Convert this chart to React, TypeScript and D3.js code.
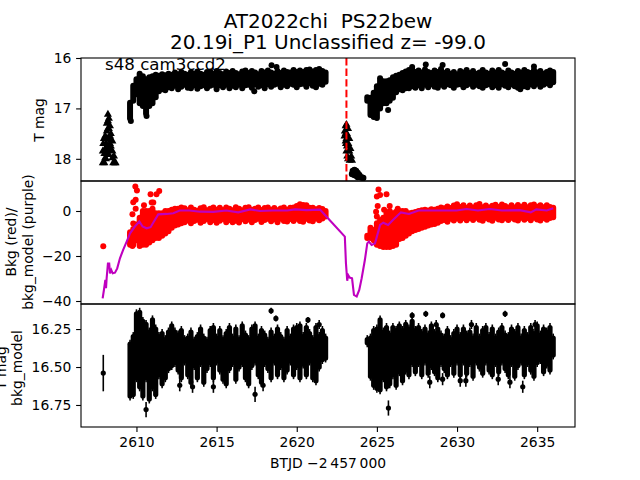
import React, { useEffect, useRef } from "react";
import * as d3 from "d3";

const leftT = [2609.6,2609.8,2610.0,2610.2,2610.4,2610.6,2610.8,2611.0,2611.2,2611.4,2611.6,2611.8,2612.0,
2612.2,2612.4,2612.6,2612.8,2613.0,2613.2,2613.4,2613.6,2613.8,2614.0,
2614.2,2614.4,2614.6,2614.8,2615.0,2615.2,2615.4,2615.6,2615.8,2616.0,
2616.2,2616.4,2616.6,2616.8,2617.0,2617.2,2617.4,2617.6,2617.8,2618.0,
2618.2,2618.4,2618.6,2618.8,2619.0,2619.2,2619.4,2619.6,2619.8,2620.0,
2620.2,2620.4,2620.6,2620.8,2621.0,2621.2,2621.4,2621.6,2621.8];
const rightT = [2624.4,2624.6,2624.8,2625.0,2625.2,2625.4,2625.6,2625.8,2626.0,2626.2,2626.4,2626.6,2626.8,2627.0,
2627.2,2627.4,2627.6,2627.8,2628.0,2628.2,2628.4,2628.6,2628.8,2629.0,2629.2,2629.4,2629.6,2629.8,2630.0,
2630.2,2630.4,2630.6,2630.8,2631.0,2631.2,2631.4,2631.6,2631.8,2632.0,2632.2,2632.4,2632.6,2632.8,2633.0,
2633.2,2633.4,2633.6,2633.8,2634.0,2634.2,2634.4,2634.6,2634.8,2635.0,2635.2,2635.4,2635.6,2635.8,2636.0];

// T mag panel: marker-centre extent of the point cloud per time column
const magHiL = [16.89,16.55,16.42,16.31,16.36,16.42,16.38,16.36,16.33,16.35,16.32,16.34,16.31,
16.33,16.29,16.32,16.28,16.31,16.33,16.28,16.31,16.27,16.31,
16.33,16.28,16.27,16.31,16.26,16.30,16.32,16.27,16.30,16.26,
16.30,16.32,16.27,16.25,16.30,16.26,16.29,16.32,16.26,16.29,
16.25,16.29,16.31,16.26,16.30,16.25,16.28,16.29,16.24,16.28,
16.25,16.28,16.24,16.23,16.27,16.24,16.22,16.26,16.29];
const magLoL = [17.20,16.85,16.72,16.90,16.95,17.10,16.95,16.90,16.78,16.66,16.62,16.64,16.58,
16.60,16.55,16.62,16.57,16.53,16.59,16.60,16.54,16.61,16.56,
16.54,16.60,16.55,16.53,16.62,16.54,16.58,16.53,16.60,16.55,
16.58,16.53,16.60,16.54,16.53,16.59,16.52,16.57,16.54,16.60,
16.52,16.57,16.53,16.51,16.58,16.53,16.56,16.51,16.53,16.58,
16.52,16.51,16.57,16.50,16.55,16.58,16.51,16.53,16.47];
const magHiR = [16.78,16.79,16.69,16.56,16.40,16.46,16.46,16.44,16.38,16.35,16.33,16.30,16.27,16.24,
16.22,16.28,16.25,16.29,16.23,16.28,16.30,16.25,16.28,16.22,16.30,16.26,16.31,16.28,16.32,
16.26,16.29,16.24,16.30,16.26,16.31,16.29,16.24,16.29,16.31,16.25,16.29,16.24,16.29,16.31,
16.25,16.29,16.31,16.26,16.29,16.24,16.28,16.30,16.24,16.29,16.26,16.31,16.28,16.25,16.28];
const magLoR = [16.85,17.13,17.17,17.19,17.00,16.90,16.90,16.85,16.79,16.68,16.62,16.64,16.60,16.60,
16.56,16.59,16.54,16.60,16.53,16.58,16.52,16.57,16.59,16.53,16.57,16.52,16.54,16.59,16.53,
16.52,16.58,16.54,16.51,16.57,16.53,16.56,16.59,16.54,16.52,16.58,16.54,16.59,16.52,16.55,
16.58,16.52,16.56,16.59,16.53,16.56,16.58,16.52,16.56,16.51,16.57,16.53,16.50,16.54,16.48];
const magOutT = [2617.35,2618.43,2618.74,2627.2,2628.05,2629.1,2633.0,2634.8,2633.95,2625.7,2610.63,2609.65];
const magOutM = [16.66,16.145,16.18,16.18,16.13,16.14,16.12,16.17,16.62,17.03,17.15,17.25];

// triangles (upper limits)
const triT = [2607.9,2607.9,2607.93,2607.97,2608.0,2608.0,2608.05,2608.05,2608.05,2608.1,2608.1,2608.1,2608.15,2608.15,2608.15,2608.15,2608.22,2608.22,2608.22,2608.22,2608.22,2608.28,2608.28,2608.28,2608.28,2608.28,2608.35,2608.35,2608.35,2608.35,2608.4,2608.4,2608.4,2608.5,2608.5,2608.5,2608.55,2608.6,2608.65,2608.7,
2622.98,2623.0,2623.05,2623.05,2623.05,2623.07,2623.1,2623.1,2623.1,2623.13,2623.13,2623.15,2623.2,2623.2,2623.2,2623.22,2623.28,2623.28,2623.3,2623.35,2623.4,2623.45];
const triM = [18.08,17.85,17.7,17.6,18.08,17.9,17.8,17.55,17.98,18.0,17.7,17.85,17.45,17.3,17.9,17.6,17.12,17.25,17.4,17.6,17.75,17.2,17.4,17.6,17.8,17.92,17.35,17.55,17.7,17.82,17.5,17.75,17.62,17.65,17.85,17.98,18.08,17.95,18.08,18.08,
17.55,17.45,17.35,17.65,17.5,17.7,17.32,17.85,17.6,17.5,17.75,17.95,17.4,18.0,17.6,17.7,17.6,17.85,18.03,17.8,17.95,18.03];
const blobT = [2623.45,2623.5,2623.6,2623.7,2623.6,2623.7,2623.8,2623.9,2623.8,2623.95,2624.05,2624.15];
const blobM = [18.30,18.24,18.22,18.24,18.32,18.33,18.28,18.32,18.36,18.36,18.37,18.38];
const eventT = [2623.1];

// Bkg panel
const bkgHiL = [-9.5,-8,-6,-3,0,0,0,1,-1,-1,-1,0,0,
0.5,1,1,1.5,1.2,0.3,1.6,0.6,0.1,1.2,
1.7,0.3,1.0,1.6,0.5,1.4,0.4,1.6,1.0,0.3,
1.7,1.0,0.3,1.4,1.7,0.5,1.0,1.6,0.4,1.3,
1.6,0.5,1.3,0.3,1.1,1.6,0.6,1.4,1.6,2.2,
3.0,2.7,2.5,1.4,1.4,0.8,1.3,0.9,0.0];
const bkgLoL = [-15,-15,-13,-15.5,-15,-15,-14,-13,-12,-12,-11,-10,-9,
-7.5,-6.5,-6,-5.5,-5,-4.2,-5.4,-4.5,-3.9,-5.2,
-4.5,-3.6,-5,-4.0,-5.2,-4.3,-3.6,-5,-4.0,-5,
-4.3,-5.1,-3.6,-4.6,-3.8,-5,-4.0,-3.5,-4.9,-4.0,
-3.5,-4.6,-3.7,-5,-3.5,-4.4,-4.7,-3.6,-4.4,-3.5,
-4.4,-4.8,-3.4,-4.2,-4.6,-3.3,-4.1,-3.3,-2.5];
const bkgHiR = [-11,-7.5,-8.5,-5.5,-4,-3,-1,0,-1,-0.3,0,0,0,-1,
-0.8,-0.4,0,0.3,0.5,0.2,0.8,0.5,1.0,1.6,1.2,2.0,1.3,2.4,3.0,
1.8,2.6,1.4,2.4,1.6,2.6,3.1,1.7,2.4,1.5,2.3,2.8,1.8,2.9,2.2,
1.6,2.5,1.6,2.7,1.8,2.8,1.7,2.5,2.9,1.9,2.6,1.7,2.5,1.8,1.4];
const bkgLoR = [-12,-12,-13,-15,-15.5,-16,-16,-16,-15.5,-15,-12.5,-12,-11,-10,
-9,-8.5,-8,-7.5,-7,-6.5,-6,-5.8,-5.2,-4.5,-4,-4.8,-3.4,-4.2,-3.3,
-4.2,-3.1,-4.1,-3.1,-4.0,-3.0,-3.9,-4.3,-3.1,-3.8,-4.3,-3.0,-3.8,-4.1,-3.1,
-4,-3.0,-3.8,-4.2,-3.0,-3.9,-3.1,-4.1,-3.0,-3.8,-4.2,-3.1,-3.9,-3.1,-2.8];
const bkgOutT = [2607.93,2609.93,2610.03,2609.8,2609.95,2609.95,2609.75,2609.8,2610.88,2611.25,2611.42,2610.95,2611.05,2610.47,2609.6,2609.75,
2625.1,2625.2,2625.0,2625.6,2625.05,2625.8,2624.95,2625.0,2626.3,2625.45,2624.55];
const bkgOutV = [-15.7,10.9,9.1,3.9,5,1,-1.4,-5.6,7.4,7.4,8.9,3.8,3.8,2.6,-10.6,-15.6,
9.6,7.1,6.4,7.4,2.2,2.2,-0.3,-2.5,1,0.5,-11];

// purple background model
const modelT = [2607.89,2607.97,2608.06,2608.1,2608.14,2608.22,2608.3,2608.35,2608.43,2608.52,2608.66,2608.8,2608.97,2609.17,2609.39,2609.6,2609.9,2610.18,2610.38,2610.63,2610.88,2611.09,2611.36,2611.88,2612.3,2612.7,2613.3,2613.96,2614.8,2615.6,2616.35,2617.1,2617.7,2618.5,2619.4,2619.9,2620.6,2621.45,2621.76,2623.0,2623.07,2623.15,2623.2,2623.3,2623.45,2623.57,2623.74,2623.9,2624.05,2624.25,2624.4,2624.5,2624.67,2624.88,2625.0,2625.2,2625.4,2625.7,2626.0,2626.5,2627.0,2627.6,2628.3,2629.1,2629.97,2630.6,2631.3,2632.05,2632.8,2633.9,2634.6,2634.95,2635.6,2636.0];
const modelV = [-38.8,-35.1,-30.6,-34.3,-29.9,-23.3,-23.3,-27.7,-26.2,-27.7,-27.4,-25.5,-21,-17.3,-13.6,-9.9,-6.9,-4.7,-6.9,-7.7,-7.2,-4.7,-1.5,-1.3,-1,0.2,0.2,-0.3,-0.4,0.2,-0.6,0.7,0,0.2,0.2,0.7,0.4,0.6,-1.8,-11.4,-23.3,-31,-28.4,-29.6,-29.9,-37.3,-38,-35.1,-29.9,-21.8,-14.4,-13.6,-15.1,-14.4,-11.4,-6.2,-5.2,-6.2,-4,-0.6,-1.3,0.2,0.2,0.2,0.2,0.9,0.2,0.9,0.2,0.4,-0.6,0.7,0.2,1.2];

// bkg-model mag panel: tips of the error bars per time column
const corrHiL = [16.32,16.27,16.12,16.11,16.17,16.19,16.24,16.16,16.22,16.27,16.25,16.29,16.24,
16.20,16.24,16.26,16.23,16.29,16.28,16.24,16.30,16.27,16.22,
16.28,16.30,16.23,16.21,16.28,16.23,16.29,16.25,16.21,16.28,
16.22,16.29,16.20,16.26,16.29,16.22,16.20,16.28,16.23,16.26,
16.30,16.24,16.28,16.22,16.27,16.30,16.23,16.28,16.22,16.21,
16.20,16.27,16.21,16.25,16.29,16.21,16.27,16.23,16.28];
const corrLoL = [16.72,16.71,16.60,16.66,16.72,16.60,16.74,16.66,16.71,16.58,16.64,16.60,16.54,
16.52,16.50,16.55,16.60,16.49,16.58,16.63,16.52,16.60,16.50,
16.63,16.54,16.50,16.60,16.49,16.55,16.61,16.64,16.54,16.50,
16.61,16.53,16.50,16.60,16.64,16.52,16.49,16.58,16.63,16.50,
16.54,16.60,16.49,16.58,16.52,16.60,16.55,16.49,16.58,16.52,
16.60,16.51,16.58,16.49,16.60,16.62,16.53,16.48,16.47];
const corrHiR = [16.29,16.28,16.23,16.22,16.16,16.24,16.21,16.26,16.21,16.23,16.20,16.23,16.19,16.22,
16.17,16.23,16.21,16.25,16.22,16.26,16.20,16.25,16.22,16.26,16.28,16.23,16.29,16.25,16.22,
16.27,16.22,16.26,16.24,16.28,16.21,16.28,16.23,16.21,16.27,16.22,16.28,16.24,16.21,16.26,
16.27,16.22,16.25,16.21,16.28,16.23,16.27,16.21,16.25,16.20,16.26,16.22,16.24,16.21,16.28];
const corrLoR = [16.37,16.59,16.65,16.67,16.68,16.60,16.66,16.64,16.58,16.65,16.56,16.62,16.55,16.58,
16.50,16.56,16.50,16.58,16.49,16.57,16.52,16.56,16.60,16.50,16.54,16.58,16.50,16.57,16.49,
16.58,16.49,16.57,16.50,16.59,16.49,16.53,16.57,16.49,16.55,16.58,16.50,16.56,16.49,16.54,
16.58,16.50,16.59,16.52,16.49,16.58,16.50,16.55,16.59,16.50,16.48,16.56,16.51,16.55,16.45];
const corrOutT = [2607.93,2610.6,2617.4,2617.9,2614.8,2613.5,2612.7,2618.4,2618.7,2620.7,2621.4,2627.2,2628.05,2629.1,2633,2634.87,2630.9,2628.7,2634.1,2625.72,2628.3,2633.3,2632.57,2630.55,2630.2,2629.1];
const corrOutM = [16.54,16.78,16.68,16.62,16.63,16.63,16.62,16.13,16.18,16.19,16.22,16.16,16.15,16.16,16.15,16.22,16.22,16.22,16.63,16.77,16.60,16.60,16.58,16.59,16.59,16.58];
const corrOutE = [0.12,0.05,0.05,0.04,0.04,0.04,0.04,0.02,0.02,0.02,0.03,0.02,0.02,0.02,0.02,0.03,0.03,0.03,0.04,0.05,0.04,0.04,0.04,0.04,0.04,0.04];

const xTicks = [2610,2615,2620,2625,2630,2635];
const magTicks = [16,17,18];
const bkgTicks = [0,-20,-40];
const corrTicks = [16.25,16.5,16.75];
const titleLines = ["AT2022chi  PS22bew","20.19i_P1 Unclassified z= -99.0"];

const FONT = "'DejaVu Sans'";
const L = 81, R = 575;

export default function App() {
  const ref = useRef<SVGSVGElement>(null);
  useEffect(() => {
    const svg = d3.select(ref.current);
    svg.selectAll("*").remove();
    const x = d3.scaleLinear().domain([2606.54, 2637.36]).range([L, R]);
    const yMag = d3.scaleLinear().domain([16, 18.44]).range([58, 181]);
    const yBkg = d3.scaleLinear().domain([13.33, -41.33]).range([181, 304]);
    const yCor = d3.scaleLinear().domain([16.085, 16.895]).range([304, 427]);

    const defs = svg.append("defs");
    const clips: [string, number, number][] = [["c1",58,181],["c2",181,304],["c3",304,427]];
    clips.forEach(([id,t,b]) => defs.append("clipPath").attr("id",id).append("rect").attr("x",L).attr("y",t).attr("width",R-L).attr("height",b-t));

    const bands = (g: any, T: number[], hi: number[], lo: number[], y: any, color: string, w: number, inset: number) => {
      const rows = T.map((t,i)=>({t,a:hi[i],b:lo[i]})).filter(d=>d.a!==undefined&&d.b!==undefined);
      if (inset>0) {
        g.append("g").selectAll("line").data(rows).join("line")
          .attr("x1",(d:any)=>x(d.t)).attr("x2",(d:any)=>x(d.t))
          .attr("y1",(d:any)=>y(d.a)).attr("y2",(d:any)=>y(d.b))
          .attr("stroke",color).attr("stroke-width",1.6);
      }
      g.append("g").selectAll("line").data(rows).join("line")
        .attr("x1",(d:any)=>x(d.t)).attr("x2",(d:any)=>x(d.t))
        .attr("y1",(d:any)=>y(d.a)+inset).attr("y2",(d:any)=>y(d.b)-inset)
        .attr("stroke",color).attr("stroke-width",w).attr("stroke-linecap","round");
    };
    const dots = (g:any, T:number[], V:number[], y:any, color:string, r:number) => {
      g.append("g").selectAll("circle").data(T.map((t,i)=>({t,v:V[i]}))).join("circle")
        .attr("cx",(d:any)=>x(d.t)).attr("cy",(d:any)=>y(d.v)).attr("r",r).attr("fill",color);
    };

    // panel 1
    const p1 = svg.append("g").attr("clip-path","url(#c1)");
    bands(p1,leftT,magHiL,magLoL,yMag,"#000",6,0);
    bands(p1,rightT,magHiR,magLoR,yMag,"#000",6,0);
    dots(p1,magOutT,magOutM,yMag,"#000",3);
    dots(p1,blobT,blobM,yMag,"#000",3.2);
    const tri = d3.symbol().type(d3.symbolTriangle).size(28);
    p1.append("g").selectAll("path").data(triT.map((t,i)=>({t,m:triM[i]}))).join("path")
      .attr("d",tri as any).attr("transform",(d:any)=>`translate(${x(d.t)},${yMag(d.m)})`).attr("fill","#000");
    p1.append("g").selectAll("line").data(eventT).join("line")
      .attr("x1",d=>x(d)).attr("x2",d=>x(d)).attr("y1",58).attr("y2",181)
      .attr("stroke","#ff0000").attr("stroke-width",2).attr("stroke-dasharray","7.4,3.2");

    // panel 2
    const p2 = svg.append("g").attr("clip-path","url(#c2)");
    bands(p2,leftT,bkgHiL,bkgLoL,yBkg,"#ff0000",6,0);
    bands(p2,rightT,bkgHiR,bkgLoR,yBkg,"#ff0000",6,0);
    dots(p2,bkgOutT,bkgOutV,yBkg,"#ff0000",3);
    const ln = d3.line<number>().x(d=>x(d)).y((_,i)=>yBkg(modelV[i]));
    p2.append("path").attr("d",ln(modelT) as string).attr("fill","none").attr("stroke","#bf00bf").attr("stroke-width",2.1);

    // panel 3
    const p3 = svg.append("g").attr("clip-path","url(#c3)");
    bands(p3,leftT,corrHiL,corrLoL,yCor,"#000",5.2,4.5);
    bands(p3,rightT,corrHiR,corrLoR,yCor,"#000",5.2,4.5);
    const err = p3.append("g");
    err.selectAll("line").data(corrOutT.map((t,i)=>({t,m:corrOutM[i],e:corrOutE[i]}))).join("line")
      .attr("x1",(d:any)=>x(d.t)).attr("x2",(d:any)=>x(d.t))
      .attr("y1",(d:any)=>yCor(d.m-d.e)).attr("y2",(d:any)=>yCor(d.m+d.e))
      .attr("stroke","#000").attr("stroke-width",1.6);
    dots(p3,corrOutT,corrOutM,yCor,"#000",2.6);

    // axes
    const style = (g:any) => {
      g.attr("font-family",FONT).attr("font-size",13.89);
      g.selectAll("text").attr("fill","#000");
      g.selectAll("line").attr("stroke","#000").attr("stroke-width",1.1);
      g.select(".domain").remove();
    };
    const fmt = (d:any)=>String(d).replace("-","\u2212");
    svg.append("g").attr("transform",`translate(${L},0)`).call(d3.axisLeft(yMag).tickValues(magTicks).tickSize(4.9).tickPadding(4.8).tickFormat(fmt as any)).call(style);
    svg.append("g").attr("transform",`translate(${L},0)`).call(d3.axisLeft(yBkg).tickValues(bkgTicks).tickSize(4.9).tickPadding(4.8).tickFormat(fmt as any)).call(style);
    svg.append("g").attr("transform",`translate(${L},0)`).call(d3.axisLeft(yCor).tickValues(corrTicks).tickSize(4.9).tickPadding(4.8).tickFormat(d3.format(".2f") as any)).call(style);
    svg.append("g").attr("transform",`translate(0,427)`).call(d3.axisBottom(x).tickValues(xTicks).tickSize(4.9).tickPadding(4.8).tickFormat(d3.format("d") as any)).call(style);

    // frames
    clips.forEach(([,t,b]) => svg.append("rect").attr("x",L).attr("y",t).attr("width",R-L).attr("height",b-t)
      .attr("fill","none").attr("stroke","#000").attr("stroke-width",1.1));

    const text = (s:string,tx:number,ty:number,size:number,rot=false,anchor="middle") => {
      const t = svg.append("text").text(s).attr("font-family",FONT).attr("font-size",size).attr("fill","#000")
        .attr("text-anchor",anchor).attr("dominant-baseline","central").style("white-space","pre");
      if (rot) t.attr("transform",`translate(${tx},${ty}) rotate(-90)`); else t.attr("x",tx).attr("y",ty);
    };
    text(titleLines[0],328,21,20);
    text(titleLines[1],328,42,20);
    text("s48 cam3ccd2",105,64,16.67,false,"start");
    text("T mag",39,120,13.89,true);
    text("Bkg (red)/",11,242,13.89,true);
    text("bkg_model (purple)",28,242,13.89,true);
    text("T mag",1,368,13.89,true);
    text("bkg_model",17,368,13.89,true);
    text("BTJD \u22122\u2009457\u2009000",328,463,13.89);
  }, []);
  return <svg ref={ref} width={640} height={480} style={{position:"absolute",left:0,top:0,background:"#fff"}} />;
}
